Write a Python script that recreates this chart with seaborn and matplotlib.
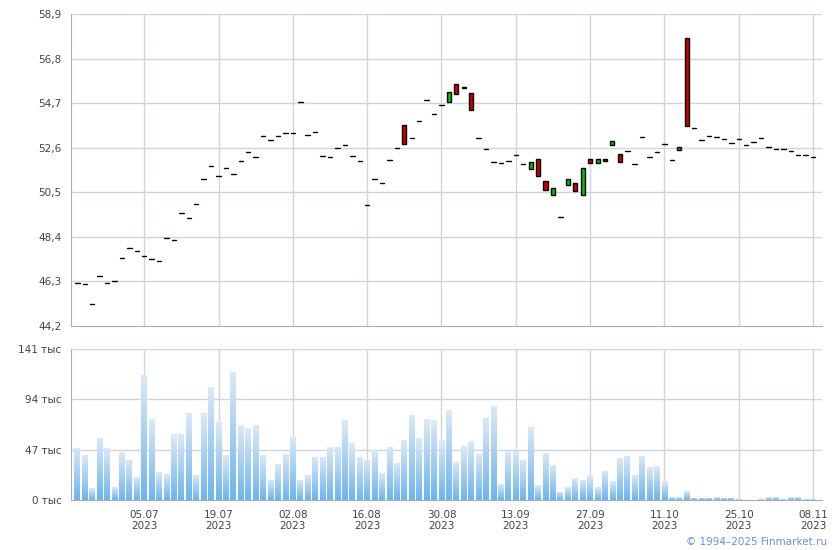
import numpy as np
import pandas as pd
import matplotlib
matplotlib.use("Agg")
import matplotlib.pyplot as plt
import seaborn as sns

# trading day index 0..99 (22.06.2023 .. 08.11.2023)
tick_labels = ["05.07\n2023", "19.07\n2023", "02.08\n2023", "16.08\n2023", "30.08\n2023",
               "13.09\n2023", "27.09\n2023", "11.10\n2023", "25.10\n2023", "08.11\n2023"]
tick_pos = [9, 19, 29, 39, 49, 59, 69, 79, 89, 99]

# open / close (doji days have open == close)
opens = [46.23, 46.18, 45.24, 46.56, 46.23, 46.30, 47.40, 47.86, 47.73, 47.50,
         47.36, 47.26, 48.35, 48.25, 49.52, 49.29, 49.95, 51.13, 51.74, 51.27,
         51.64, 51.36, 51.97, 52.40, 52.16, 53.15, 52.96, 53.15, 53.29, 53.29,
         54.75, 53.20, 53.34, 52.21, 52.16, 52.59, 52.73, 52.21, 51.97, 49.90,
         51.13, 50.94, 52.02, 52.59, 53.65, 53.06, 53.86, 54.85, 54.19, 54.61,
         54.75, 55.60, 55.45, 55.18, 53.06, 52.54, 51.93, 51.88, 51.97, 52.26,
         51.83, 51.60, 52.07, 51.03, 50.37, 49.34, 50.84, 50.94, 50.37, 52.07,
         51.88, 52.07, 52.73, 52.30, 52.45, 51.83, 53.10, 52.16, 52.40, 52.78,
         52.02, 52.49, 57.77, 53.53, 52.96, 53.15, 53.10, 53.01, 52.82, 53.01,
         52.73, 52.87, 53.06, 52.63, 52.54, 52.54, 52.45, 52.26, 52.26, 52.16]
closes = [46.23, 46.18, 45.24, 46.56, 46.23, 46.30, 47.40, 47.86, 47.73, 47.50,
          47.36, 47.26, 48.35, 48.25, 49.52, 49.29, 49.95, 51.13, 51.74, 51.27,
          51.64, 51.36, 51.97, 52.40, 52.16, 53.15, 52.96, 53.15, 53.29, 53.29,
          54.75, 53.20, 53.34, 52.21, 52.16, 52.59, 52.73, 52.21, 51.97, 49.90,
          51.13, 50.94, 52.02, 52.59, 52.78, 53.06, 53.86, 54.85, 54.19, 54.61,
          55.22, 55.13, 55.41, 54.38, 53.06, 52.54, 51.93, 51.88, 51.97, 52.26,
          51.83, 51.93, 51.27, 50.61, 50.70, 49.34, 51.13, 50.56, 51.64, 51.88,
          52.07, 51.97, 52.92, 51.93, 52.45, 51.83, 53.10, 52.16, 52.40, 52.78,
          52.02, 52.63, 53.62, 53.53, 52.96, 53.15, 53.10, 53.01, 52.82, 53.01,
          52.73, 52.87, 53.06, 52.63, 52.54, 52.54, 52.45, 52.26, 52.26, 52.16]

# volume, thousands
volume = [48.6, 42.0, 11.2, 57.9, 48.6, 12.1, 44.8, 37.4, 21.5, 116.7,
          75.6, 26.1, 24.3, 61.6, 61.6, 81.2, 23.3, 81.2, 105.5, 72.8,
          42.0, 119.5, 70.0, 67.2, 70.0, 42.0, 18.7, 33.6, 43.0, 58.8,
          18.7, 23.3, 40.2, 40.2, 49.5, 49.5, 74.7, 53.2, 40.2, 37.4,
          46.7, 25.2, 49.5, 34.6, 56.0, 79.4, 57.9, 75.6, 74.7, 56.0,
          84.0, 35.5, 50.4, 55.1, 43.0, 76.6, 87.8, 14.9, 45.8, 45.8,
          37.4, 68.2, 14.0, 43.9, 32.7, 7.5, 12.1, 20.5, 18.7, 23.3,
          12.1, 27.1, 17.7, 39.2, 41.1, 23.3, 41.1, 30.8, 31.7, 17.7,
          2.8, 2.8, 8.4, 1.9, 1.9, 1.9, 2.8, 1.9, 1.9, 0.9,
          0.3, 0.3, 0.9, 2.8, 2.8, 0.9, 2.8, 2.8, 0.9, 0.9]

price_ticks = [44.2, 46.3, 48.4, 50.5, 52.6, 54.7, 56.8, 58.9]
vol_ticks = [0, 47, 94, 141]

sns.set_style("white")
plt.rcParams["font.family"] = ["DejaVu Sans"]
grid_c = "#cfd5dc"
spine_c = "#a9adbb"
text_c = "#444444"

fig = plt.figure(figsize=(8.4, 5.5), dpi=100)
W, H = 840, 550
x0, x1 = 71, 822
ax = fig.add_axes([x0 / W, 1 - 326 / H, (x1 - x0) / W, (326 - 14) / H])
axv = fig.add_axes([x0 / W, 1 - 500 / H, (x1 - x0) / W, (500 - 349) / H])

n = len(opens)
idx = np.arange(n)
xlim = (-0.85, 100.2)

df = pd.DataFrame({"i": idx, "o": opens, "c": closes, "v": volume})

for a in (ax, axv):
    a.set_xlim(*xlim)
    a.set_xticks(tick_pos)
    for p in tick_pos:
        a.axvline(p, color=grid_c, lw=1, zorder=0)
    for s in ("top", "right"):
        a.spines[s].set_visible(False)
    for s in ("left", "bottom"):
        a.spines[s].set_color(spine_c)
    a.tick_params(axis="both", length=4, color=spine_c, labelsize=7.5, labelcolor=text_c, pad=3)

# price panel
ax.set_ylim(44.2, 58.9)
ax.set_yticks(price_ticks)
ax.set_yticklabels([f"{t:.1f}".replace(".", ",") for t in price_ticks])
for t in price_ticks[1:]:
    ax.axhline(t, color=grid_c, lw=1, zorder=0)
ax.set_xticklabels([])

for _, r in df.iterrows():
    o, c = r["o"], r["c"]
    if abs(c - o) < 0.02:
        ax.plot([r["i"] - 0.3, r["i"] + 0.3], [o, o], color="black", lw=1.0, zorder=3)
    else:
        col = "#00c000" if c > o else "#cc0000"
        ax.bar(r["i"], abs(c - o), bottom=min(o, c), width=0.55, color=col,
               edgecolor="black", linewidth=1, zorder=3)

# volume panel
sns.barplot(data=df, x="i", y="v", native_scale=True, ax=axv, width=0.78,
            color="#7ab9ee", saturation=1, zorder=2)
axv.set_xlim(*xlim)
axv.set_ylim(0, 141)
axv.set_yticks(vol_ticks)
axv.set_yticklabels([f"{t} тыс" for t in vol_ticks])
for t in vol_ticks[1:]:
    axv.axhline(t, color=grid_c, lw=1, zorder=0)
axv.set_xticks(tick_pos)
axv.set_xticklabels(tick_labels)
axv.set_xlabel("")
axv.set_ylabel("")

grad = np.linspace(1, 0, 256).reshape(-1, 1)
cmap = matplotlib.colors.LinearSegmentedColormap.from_list("vol", ["#dce9f7", "#6cb4ee"])
for p in list(axv.patches):
    bx, by = p.get_x(), p.get_y()
    bw, bh = p.get_width(), p.get_height()
    im = axv.imshow(grad, cmap=cmap, aspect="auto", extent=(bx, bx + bw, by, by + bh),
                    origin="lower", zorder=2)
    im.set_clip_path(p)
    p.set_facecolor("none")
    p.set_edgecolor("none")
axv.set_xlim(*xlim)
axv.set_ylim(0, 141)

fig.text(827 / W, 1 - 542 / H, "© 1994–2025 Finmarket.ru", ha="right", va="center",
         fontsize=7.5, color="#6f8fd6")

fig.savefig("out.png", dpi=100)
